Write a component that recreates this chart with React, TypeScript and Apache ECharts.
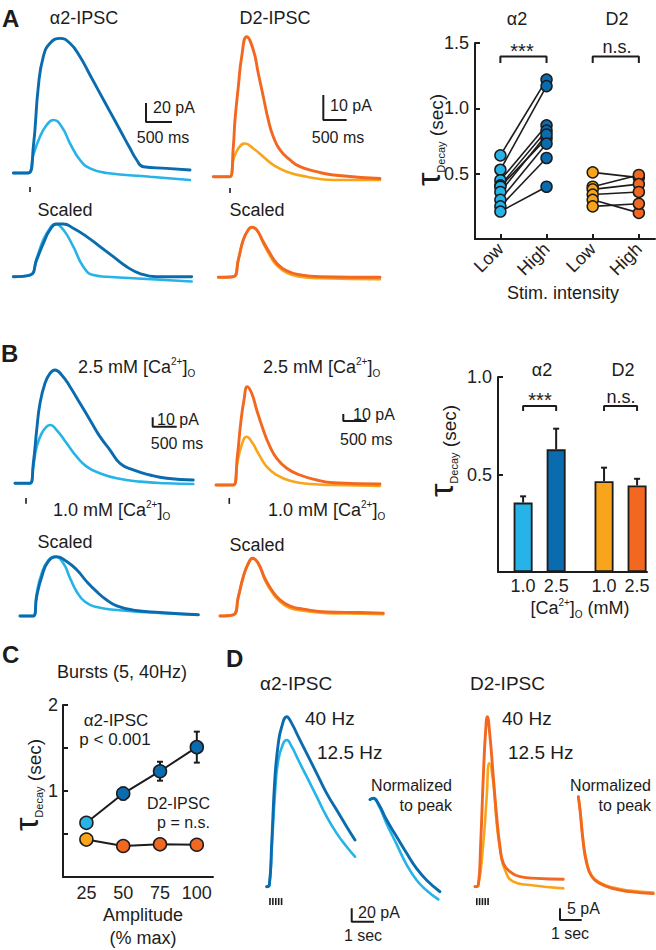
import React, { useEffect, useRef } from 'react';
import * as echarts from 'echarts';

type Pt = [number, number];

// ---------------- DATA ----------------
// Panel A traces (time in ms from stimulus, amplitude in pA)
const aAlphaHigh: Pt[] = [[-321,0],[-32,0],[64,27.7],[160,90.9],[256,122.5],[385,136.6],[577,141.8],[769,136.6],[962,122.5],[1154,103.2],[1346,83.9],[1538,64.6],[1731,45.3],[1923,26],[2052,13.7],[2179,6.6],[2628,4.9],[3077,3.2]];
const aAlphaLow: Pt[] = [[-321,0],[-32,0],[64,19],[192,38.2],[321,50.5],[448,55.8],[609,48.8],[769,31.3],[962,13.7],[1154,4.9],[1475,0],[2308,-3.9],[3077,-7.4]];
const aD2High: Pt[] = [[-357,0],[0,0],[71,12],[107,22.7],[178,36],[250,48],[357,56],[499,50.7],[606,41.3],[713,32],[820,22.7],[927,16],[1070,10.7],[1284,6.7],[1498,4],[1855,2],[2211,0.7],[3210,-0.7]];
const aD2Low: Pt[] = [[-357,0],[0,0],[71,6.7],[178,11.3],[321,13.3],[499,11.3],[713,8],[927,4.7],[1213,2],[1641,0],[2211,-1.3],[3210,-1.3]];
// Panel A scaled traces (fraction of peak)
const aAlphaHighScaled: Pt[] = [[-321,0],[0,0.03],[128,0.32],[256,0.63],[385,0.89],[513,1],[641,1],[833,0.92],[1090,0.76],[1346,0.57],[1602,0.38],[1859,0.19],[2115,0.06],[2436,0],[3109,0]];
const aAlphaLowScaled: Pt[] = [[-321,0],[0,0.03],[128,0.35],[256,0.7],[385,0.92],[481,1],[641,0.89],[833,0.57],[1025,0.19],[1218,0.03],[1474,0],[1987,-0.03],[3109,-0.09]];
const aD2HighScaled: Pt[] = [[-321,0],[0,0.01],[107,0.35],[214,0.75],[321,0.95],[394,1],[501,0.95],[642,0.71],[785,0.48],[929,0.28],[1143,0.13],[1427,0.05],[1855,0.01],[3139,0]];
const aD2LowScaled: Pt[] = [[-321,0],[0,0.01],[107,0.35],[214,0.75],[321,0.95],[394,1],[501,0.95],[642,0.68],[785,0.43],[929,0.24],[1143,0.09],[1427,0.01],[1855,-0.02],[3139,-0.04]];

// Panel A right: tau decay (s), paired low/high stimulation
const stimPos = [1, 2, 3, 4];
const stimLabels = ['Low', 'High', 'Low', 'High'];
const alphaLowTau = [0.64, 0.53, 0.45, 0.41, 0.40, 0.36, 0.30, 0.25, 0.21];
const alphaHighTau = [1.22, 1.17, 0.87, 0.83, 0.77, 0.80, 0.73, 0.62, 0.40];
const d2LowTau = [0.51, 0.40, 0.38, 0.34, 0.30, 0.25];
const d2HighTau = [0.47, 0.49, 0.42, 0.36, 0.20, 0.27];

// Panel B traces (ms, pA)
const bAlphaHigh: Pt[] = [[-312,0],[0,0],[69,21.4],[139,57],[208,85.6],[312,107],[416,117.7],[520,121.3],[659,115.9],[832,103.4],[1040,85.6],[1248,67.8],[1456,49.9],[1664,35.6],[1872,21.4],[2149,14.3],[2496,8.9],[2843,5.4],[3397,3.6]];
const bAlphaLow: Pt[] = [[-312,0],[0,0],[69,17.8],[139,39.2],[243,53.5],[347,60.6],[416,62.4],[555,57],[763,42.8],[971,28.5],[1179,17.8],[1456,10.7],[1803,5.4],[2288,1.8],[2843,0],[3397,-0.7]];
const bD2High: Pt[] = [[-370,0],[0,0],[86,40.5],[158,88.2],[229,121.6],[300,140.6],[394,131.1],[501,107.3],[642,78.7],[785,54.8],[929,38.2],[1143,23.9],[1427,14.3],[1785,7.2],[2140,3.3],[3139,1.4]];
const bD2Low: Pt[] = [[-370,0],[0,0],[86,31],[179,57.2],[286,69.1],[394,61.9],[535,45.3],[714,26.2],[929,14.3],[1213,6.1],[1641,1.4],[2140,0],[3139,-1.4]];
const bAlphaHighScaled: Pt[] = [[-277,0],[0,0],[71,0.33],[175,0.66],[312,0.92],[487,1],[695,0.92],[903,0.78],[1111,0.58],[1319,0.41],[1527,0.27],[1735,0.17],[2080,0.1],[2635,0.06],[3432,0.02]];
const bAlphaLowScaled: Pt[] = [[-277,0],[0,0],[71,0.38],[175,0.72],[312,0.94],[451,1],[624,0.89],[763,0.64],[903,0.41],[1075,0.24],[1319,0.15],[1735,0.1],[2427,0.06],[3432,0.02]];
const bD2HighScaled: Pt[] = [[-285,0],[0,0.02],[107,0.33],[214,0.68],[321,0.91],[415,1],[535,0.91],[678,0.65],[822,0.45],[999,0.28],[1213,0.17],[1498,0.12],[1999,0.07],[2711,0.06],[3210,0.05]];
const bD2LowScaled: Pt[] = [[-285,0],[0,0.02],[107,0.33],[214,0.68],[321,0.91],[415,1],[535,0.91],[678,0.62],[822,0.42],[999,0.25],[1213,0.14],[1498,0.09],[1999,0.05],[2711,0.04],[3210,0.03]];

// Panel B right: bars (tau decay, s)
const caPos = [1, 2, 3.45, 4.45];
const caLabels = ['1.0', '2.5', '1.0', '2.5'];
const caMeans = [0.356, 0.629, 0.466, 0.444];
const caSem = [0.032, 0.106, 0.069, 0.034];

// Panel C: bursts
const amplitudes = [25, 50, 75, 100];
const alphaBurstTau = [0.63, 0.97, 1.23, 1.51];
const alphaBurstErr = [0.04, 0.07, 0.11, 0.18];
const d2BurstTau = [0.435, 0.36, 0.38, 0.375];
const d2BurstErr = [0.03, 0.03, 0.03, 0.03];

// Panel D traces (ms, pA) and normalized (fraction of peak)
const dAlpha40: Pt[] = [[-117,0],[0,2.5],[107,65],[255,165],[403,215],[556,240],[780,255],[1004,245],[1299,225],[1676,200],[2124,170],[2572,140],[3020,115],[3467,90],[3839,70]];
const dAlpha125: Pt[] = [[-117,0],[0,2.5],[107,55],[255,140],[403,190],[627,215],[780,220],[1004,210],[1299,190],[1676,165],[2124,135],[2572,105],[3020,80],[3467,60],[3839,45]];
const dAlphaNorm40: Pt[] = [[-148,0.99],[0,1],[224,0.96],[600,0.83],[1048,0.7],[1496,0.57],[1944,0.45],[2392,0.36],[2988,0.27]];
const dAlphaNorm125: Pt[] = [[-148,0.99],[0,1],[224,0.95],[600,0.8],[1048,0.64],[1496,0.48],[1944,0.36],[2392,0.28],[2912,0.21]];
const dD2_40: Pt[] = [[-152,0],[0,0.7],[110,18.7],[230,47.3],[340,67.4],[414,73.1],[538,64.5],[690,47.3],[846,30.1],[998,17.2],[1150,10.1],[1458,6.5],[1918,4.3],[2686,3.6],[3910,3.2]];
const dD2_125: Pt[] = [[-152,0],[0,0.7],[230,18.7],[386,38.7],[506,53.1],[690,44.5],[846,27.3],[1030,14.4],[1228,7.2],[1610,2.2],[2378,0.7],[3910,-0.7]];
const dD2Norm40: Pt[] = [[0,1],[78,0.87],[230,0.54],[386,0.34],[616,0.21],[998,0.14],[1610,0.09],[2378,0.06],[3450,0.04]];
const dD2Norm125: Pt[] = [[0,1],[78,0.88],[230,0.56],[386,0.36],[616,0.22],[998,0.15],[1610,0.1],[2378,0.07],[3450,0.05]];

// scale bars: [time origin, amp origin, time length, amp length]
const sbAAlpha = [2231, 53.7, 500, 20];
const sbAD2 = [1997, 22.7, 500, 10];
const sbBAlpha = [2552, 60.6, 500, 10];
const sbBD2 = [2354, 91.5, 500, 10];
const sbDAlpha = [3692, -52.5, 1000, 20];
const sbDD2 = [3758, -14.3, 1000, 5];
// stimulus markers (ms)
const stimSingle = [0];
const stimBurstAlpha = [30, 160, 290, 420, 550];
const stimBurstD2 = [-70, 60, 190, 320, 450];

// ---------------- STYLE ----------------
const FONT = '"Liberation Sans", Arial, Helvetica, sans-serif';
const INK = '#1c1c1c';
const A2L = '#25b3e8';
const A2D = '#0a6cae';
const D2L = '#f9a51b';
const D2D = '#f26820';

function buildOption() {
  const grids: any[] = [];
  const xAxes: any[] = [];
  const yAxes: any[] = [];
  const series: any[] = [];

  function tracePanel(box: number[], origin: number[], msPerPx: number, ampPerPx: number) {
    const [l, t, r, b] = box;
    const [x0, y0] = origin;
    const gi = grids.length;
    grids.push({ left: l, top: t, width: r - l, height: b - t });
    xAxes.push({ gridIndex: gi, type: 'value', show: false, min: (l - x0) * msPerPx, max: (r - x0) * msPerPx });
    yAxes.push({ gridIndex: gi, type: 'value', show: false, min: (y0 - b) * ampPerPx, max: (y0 - t) * ampPerPx });
    return gi;
  }
  function trace(gi: number, data: Pt[], color: string, z: number) {
    series.push({
      type: 'line', xAxisIndex: gi, yAxisIndex: gi, data, symbol: 'none', showSymbol: false,
      smooth: 0.5, lineStyle: { color, width: z === 3 ? 2.9 : 2.6, join: 'round', cap: 'round' }, silent: true, z,
    });
  }
  function scaleBar(gi: number, sb: number[]) {
    const [t0, a0, tl, al] = sb;
    series.push({
      type: 'line', xAxisIndex: gi, yAxisIndex: gi, data: [[t0, a0 + al], [t0, a0], [t0 + tl, a0]],
      symbol: 'none', lineStyle: { color: INK, width: 2 }, silent: true, z: 6,
    });
  }
  function ticks(gi: number, times: number[], lo: number, hi: number, w: number) {
    series.push({
      type: 'custom', xAxisIndex: gi, yAxisIndex: gi, silent: true, z: 6,
      data: times.map((t) => [t, lo, hi]), encode: { x: 0, y: [1, 2] },
      renderItem: (_p: any, api: any) => {
        const a = api.coord([api.value(0), api.value(1)]);
        const b = api.coord([api.value(0), api.value(2)]);
        return { type: 'line', shape: { x1: a[0], y1: a[1], x2: b[0], y2: b[1] }, style: { stroke: INK, lineWidth: w } };
      },
    });
  }
  function errBars(gi: number, data: number[][], capBottom: boolean, z: number) {
    series.push({
      type: 'custom', xAxisIndex: gi, yAxisIndex: gi, silent: true, z,
      data, encode: { x: 0, y: [1, 2] },
      renderItem: (_p: any, api: any) => {
        const lo = api.coord([api.value(0), api.value(1)]);
        const hi = api.coord([api.value(0), api.value(2)]);
        const st = { stroke: INK, lineWidth: 2 };
        const children: any[] = [
          { type: 'line', shape: { x1: lo[0], y1: lo[1], x2: hi[0], y2: hi[1] }, style: st },
          { type: 'line', shape: { x1: hi[0] - 3, y1: hi[1], x2: hi[0] + 3, y2: hi[1] }, style: st },
        ];
        if (capBottom) children.push({ type: 'line', shape: { x1: lo[0] - 3, y1: lo[1], x2: lo[0] + 3, y2: lo[1] }, style: st });
        return { type: 'group', children };
      },
    });
  }
  function bracket(gi: number, x1: number, x2: number, y: number, leg: number) {
    series.push({
      type: 'line', xAxisIndex: gi, yAxisIndex: gi, data: [[x1, y - leg], [x1, y], [x2, y], [x2, y - leg]],
      symbol: 'none', lineStyle: { color: INK, width: 2 }, silent: true, z: 6,
    });
  }

  // ---- Panel A traces ----
  const gAA = tracePanel([10, 30, 195, 195], [30, 173], 19.23, 1.053);
  trace(gAA, aAlphaLow, A2L, 2); trace(gAA, aAlphaHigh, A2D, 3);
  scaleBar(gAA, sbAAlpha); ticks(gAA, stimSingle, -14.7, -20, 1.6);
  const gAD = tracePanel([210, 30, 385, 195], [230, 176.7], 21.4, 0.4);
  trace(gAD, aD2Low, D2L, 2); trace(gAD, aD2High, D2D, 3);
  scaleBar(gAD, sbAD2); ticks(gAD, stimSingle, -4.5, -6.5, 1.6);
  const gAAs = tracePanel([10, 215, 195, 290], [30, 276.7], 19.23, 1 / 52.7);
  trace(gAAs, aAlphaLowScaled, A2L, 2); trace(gAAs, aAlphaHighScaled, A2D, 3);
  const gADs = tracePanel([210, 215, 385, 290], [233.3, 277.3], 21.4, 1 / 50);
  trace(gADs, aD2LowScaled, D2L, 2); trace(gADs, aD2HighScaled, D2D, 3);

  // ---- Panel B traces ----
  const gBA = tracePanel([10, 355, 200, 510], [30, 483.3], 20.8, 1.07);
  trace(gBA, bAlphaLow, A2L, 2); trace(gBA, bAlphaHigh, A2D, 3);
  scaleBar(gBA, sbBAlpha); ticks(gBA, [-83], -15.7, -22, 1.6);
  const gBD = tracePanel([210, 355, 390, 510], [233.3, 485], 21.4, 1.43);
  trace(gBD, bD2Low, D2L, 2); trace(gBD, bD2High, D2D, 3);
  scaleBar(gBD, sbBD2); ticks(gBD, [-86], -18.6, -27, 1.6);
  const gBAs = tracePanel([10, 545, 200, 625], [33.3, 616], 20.8, 1 / 59.3);
  trace(gBAs, bAlphaLowScaled, A2L, 2); trace(gBAs, bAlphaHighScaled, A2D, 3);
  const gBDs = tracePanel([210, 545, 390, 625], [233.3, 616], 21.4, 1 / 57.7);
  trace(gBDs, bD2LowScaled, D2L, 2); trace(gBDs, bD2HighScaled, D2D, 3);

  // ---- Panel D traces ----
  const gDA = tracePanel([255, 700, 380, 925], [269.3, 886.7], 44.8, 1.5);
  trace(gDA, dAlpha125, A2L, 2); trace(gDA, dAlpha40, A2D, 3);
  scaleBar(gDA, sbDAlpha); ticks(gDA, stimBurstAlpha, -17, -27.5, 1.6);
  const gDAn = tracePanel([360, 780, 450, 925], [373.3, 926.3], 44.8, 1 / 128);
  trace(gDAn, dAlphaNorm125, A2L, 2); trace(gDAn, dAlphaNorm40, A2D, 3);
  const gDD = tracePanel([465, 700, 590, 925], [478.3, 886.7], 46, 0.43);
  trace(gDD, dD2_125, D2L, 2); trace(gDD, dD2_40, D2D, 3);
  scaleBar(gDD, sbDD2); ticks(gDD, stimBurstD2, -4.9, -7.9, 1.6);
  const gDDn = tracePanel([570, 780, 656, 925], [578.3, 897.7], 46, 1 / 101);
  trace(gDDn, dD2Norm125, D2L, 2); trace(gDDn, dD2Norm40, D2D, 3);

  const axLine = { show: true, onZero: false, lineStyle: { color: INK, width: 2 } };
  const lab = { fontFamily: FONT, fontSize: 18, color: '#222' };

  // ---- Panel A scatter ----
  const gAS = grids.length;
  grids.push({ left: 475, top: 43, width: 180, height: 196 });
  xAxes.push({
    gridIndex: gAS, type: 'value', min: 0.45, max: 4.35, axisLine: axLine, splitLine: { show: false },
    axisTick: { show: true, inside: true, length: 5, customValues: stimPos, lineStyle: { color: INK, width: 2 } },
    axisLabel: { ...lab, customValues: stimPos, rotate: 45, margin: 7,
      formatter: (v: number) => stimLabels[stimPos.findIndex((p) => Math.abs(p - v) < 1e-6)] ?? '' },
  });
  yAxes.push({
    gridIndex: gAS, type: 'value', min: 0, max: 1.5, interval: 0.5, axisLine: axLine, splitLine: { show: false },
    axisTick: { show: true, inside: true, length: 5, lineStyle: { color: INK, width: 2 } },
    axisLabel: { ...lab, margin: 6, formatter: (v: number) => (v === 0 ? '' : v.toFixed(1)) },
  });
  alphaLowTau.forEach((lo, i) => series.push({
    type: 'line', xAxisIndex: gAS, yAxisIndex: gAS, data: [[1, lo], [2, alphaHighTau[i]]],
    symbol: 'none', lineStyle: { color: INK, width: 1.6 }, silent: true, z: 2,
  }));
  d2LowTau.forEach((lo, i) => series.push({
    type: 'line', xAxisIndex: gAS, yAxisIndex: gAS, data: [[3, lo], [4, d2HighTau[i]]],
    symbol: 'none', lineStyle: { color: INK, width: 1.6 }, silent: true, z: 2,
  }));
  const dot = (x: number, vals: number[], color: string) => series.push({
    type: 'scatter', xAxisIndex: gAS, yAxisIndex: gAS, data: vals.map((v) => [x, v]), symbolSize: 11,
    itemStyle: { color, borderColor: INK, borderWidth: 1.5, opacity: 1 }, silent: true, z: 4,
  });
  dot(1, alphaLowTau, A2L); dot(2, alphaHighTau, A2D); dot(3, d2LowTau, D2L); dot(4, d2HighTau, D2D);
  bracket(gAS, 1, 2, 1.397, 0.05); bracket(gAS, 3, 4, 1.397, 0.05);

  // ---- Panel B bars ----
  const gBB = grids.length;
  grids.push({ left: 498, top: 377, width: 149, height: 195 });
  xAxes.push({
    gridIndex: gBB, type: 'value', min: 0.24, max: 4.75, axisLine: axLine, splitLine: { show: false },
    axisTick: { show: false },
    axisLabel: { ...lab, customValues: caPos, margin: 5,
      formatter: (v: number) => caLabels[caPos.findIndex((p) => Math.abs(p - v) < 1e-6)] ?? '' },
  });
  yAxes.push({
    gridIndex: gBB, type: 'value', min: 0, max: 1, interval: 0.5, axisLine: axLine, splitLine: { show: false },
    axisTick: { show: true, inside: true, length: 5, lineStyle: { color: INK, width: 2 } },
    axisLabel: { ...lab, margin: 6, formatter: (v: number) => (v === 0 ? '' : v.toFixed(1)) },
  });
  const barColors = [A2L, A2D, D2L, D2D];
  series.push({
    type: 'bar', xAxisIndex: gBB, yAxisIndex: gBB, barWidth: 19, silent: true, z: 2,
    data: caPos.map((x, i) => ({ value: [x, caMeans[i]], itemStyle: { color: barColors[i] } })),
    itemStyle: { borderColor: INK, borderWidth: 1.8 },
  });
  errBars(gBB, caPos.map((x, i) => [x, caMeans[i], caMeans[i] + caSem[i]]), false, 3);
  bracket(gBB, 1, 2, 0.851, 0.025); bracket(gBB, 3.45, 4.45, 0.851, 0.025);

  // ---- Panel C ----
  const gC = grids.length;
  grids.push({ left: 63, top: 705, width: 150, height: 172 });
  xAxes.push({
    gridIndex: gC, type: 'value', min: 9.1, max: 111, axisLine: axLine, splitLine: { show: false },
    axisTick: { show: false }, axisLabel: { ...lab, customValues: amplitudes, margin: 7 },
  });
  yAxes.push({
    gridIndex: gC, type: 'value', min: 0, max: 2, interval: 0.5, axisLine: axLine, splitLine: { show: false },
    axisTick: { show: true, inside: true, length: 5, lineStyle: { color: INK, width: 2 } },
    axisLabel: { ...lab, margin: 5, formatter: (v: number) => (v > 0 && Number.isInteger(v) ? String(v) : '') },
  });
  [alphaBurstTau, d2BurstTau].forEach((vals) => series.push({
    type: 'line', xAxisIndex: gC, yAxisIndex: gC, data: amplitudes.map((a, i) => [a, vals[i]]),
    symbol: 'none', lineStyle: { color: INK, width: 2 }, silent: true, z: 2,
  }));
  errBars(gC, amplitudes.map((a, i) => [a, alphaBurstTau[i] - alphaBurstErr[i], alphaBurstTau[i] + alphaBurstErr[i]]), true, 3);
  errBars(gC, amplitudes.map((a, i) => [a, d2BurstTau[i] - d2BurstErr[i], d2BurstTau[i] + d2BurstErr[i]]), true, 3);
  series.push({
    type: 'scatter', xAxisIndex: gC, yAxisIndex: gC, symbolSize: 13, silent: true, z: 4,
    data: amplitudes.map((a, i) => ({ value: [a, alphaBurstTau[i]], itemStyle: { color: i === 0 ? A2L : A2D } })),
    itemStyle: { borderColor: INK, borderWidth: 1.5, opacity: 1 },
  });
  series.push({
    type: 'scatter', xAxisIndex: gC, yAxisIndex: gC, symbolSize: 13, silent: true, z: 4,
    data: amplitudes.map((a, i) => ({ value: [a, d2BurstTau[i]], itemStyle: { color: i === 0 ? D2L : D2D } })),
    itemStyle: { borderColor: INK, borderWidth: 1.5, opacity: 1 },
  });

  // ---- texts ----
  const txt = (text: string, x: number, y: number, size: number, align = 'center', bold = false) => ({
    type: 'text', x, y, silent: true, z: 10,
    style: { text, fontFamily: FONT, fontSize: size, fontWeight: bold ? 'bold' : 'normal', fill: INK, align, verticalAlign: 'middle' },
  });
  const sub = { fontFamily: FONT, fill: INK };
  const caText = (s: string, x: number, y: number, align = 'left') => ({
    type: 'text', x, y, silent: true, z: 10,
    style: {
      text: s, fontFamily: FONT, fontSize: 18, lineHeight: 22, fill: INK, align, verticalAlign: 'middle',
      rich: { sup: { ...sub, fontSize: 10, lineHeight: 10, verticalAlign: 'top' }, sub: { ...sub, fontSize: 10, lineHeight: 10, verticalAlign: 'bottom' } },
    },
  });
  const tau = (x: number, y: number) => ({
    type: 'text', x, y, rotation: Math.PI / 2, silent: true, z: 10,
    style: {
      text: '{t|τ}{s|Decay}{n| (sec)}', fontFamily: FONT, fill: INK, align: 'center', verticalAlign: 'middle',
      rich: {
        t: { ...sub, fontSize: 34, lineHeight: 36 },
        s: { ...sub, fontSize: 11, lineHeight: 11, verticalAlign: 'bottom' },
        n: { ...sub, fontSize: 19, lineHeight: 23, verticalAlign: 'bottom' },
      },
    },
  });

  const elements: any[] = [
    txt('A', 2, 18, 24, 'left', true), txt('B', 1, 353, 24, 'left', true),
    txt('C', 2, 654, 24, 'left', true), txt('D', 226, 658, 24, 'left', true),
    // A
    txt('α2-IPSC', 84, 18, 18), txt('D2-IPSC', 275, 18, 18),
    txt('20 pA', 153, 107, 16, 'left'), txt('500 ms', 163, 137, 16),
    txt('10 pA', 330, 105, 16, 'left'), txt('500 ms', 338, 137, 16),
    txt('Scaled', 65, 210, 18), txt('Scaled', 257, 210, 18),
    txt('α2', 517, 19, 18), txt('D2', 617, 19, 18),
    txt('***', 522, 51, 20), txt('n.s.', 617, 47, 18),
    txt('Stim. intensity', 563, 293, 18),
    tau(428, 140),
    // B
    caText('2.5 mM [Ca{sup|2+}]{sub|O}', 78, 367), caText('2.5 mM [Ca{sup|2+}]{sub|O}', 263, 367),
    caText('1.0 mM [Ca{sup|2+}]{sub|O}', 53, 510), caText('1.0 mM [Ca{sup|2+}]{sub|O}', 268, 510),
    txt('10 pA', 157, 419, 16, 'left'), txt('500 ms', 177, 443, 16),
    txt('10 pA', 353, 414, 16, 'left'), txt('500 ms', 340, 439, 16, 'left'),
    txt('Scaled', 65, 542, 18), txt('Scaled', 257, 545, 18),
    txt('α2', 542, 370, 18), txt('D2', 623, 370, 18),
    txt('***', 540, 400, 20), txt('n.s.', 621, 397, 18),
    caText('[Ca{sup|2+}]{sub|O} (mM)', 580, 608, 'center'),
    tau(441, 451),
    // C
    txt('Bursts (5, 40Hz)', 122, 672, 18),
    txt('α2-IPSC', 116, 720, 17), txt('p < 0.001', 115, 739, 17),
    txt('D2-IPSC', 210, 803, 16, 'right'), txt('p = n.s.', 210, 822, 16, 'right'),
    txt('Amplitude', 143, 915, 18), txt('(% max)', 143, 938, 18),
    tau(26, 785),
    // D
    txt('α2-IPSC', 260, 683, 19, 'left'), txt('D2-IPSC', 470, 683, 19, 'left'),
    txt('40 Hz', 305, 718, 19, 'left'), txt('12.5 Hz', 317, 752, 19, 'left'),
    txt('40 Hz', 502, 718, 19, 'left'), txt('12.5 Hz', 508, 752, 19, 'left'),
    txt('Normalized', 452, 785, 16, 'right'), txt('to peak', 452, 805, 16, 'right'),
    txt('Normalized', 651, 785, 16, 'right'), txt('to peak', 651, 805, 16, 'right'),
    txt('20 pA', 358, 912, 16, 'left'), txt('1 sec', 363, 935, 16),
    txt('5 pA', 567, 908, 16, 'left'), txt('1 sec', 570, 933, 16),
  ];

  return {
    animation: false,
    backgroundColor: '#ffffff',
    grid: grids,
    xAxis: xAxes,
    yAxis: yAxes,
    series,
    graphic: { elements },
  };
}

export default function App() {
  const ref = useRef<HTMLDivElement>(null);
  useEffect(() => {
    if (!ref.current) return;
    const chart = echarts.init(ref.current, undefined, { renderer: 'svg' });
    chart.setOption(buildOption() as any);
    return () => chart.dispose();
  }, []);
  return <div ref={ref} style={{ position: 'absolute', left: 0, top: 0, width: 656, height: 950, background: '#fff' }} />;
}
